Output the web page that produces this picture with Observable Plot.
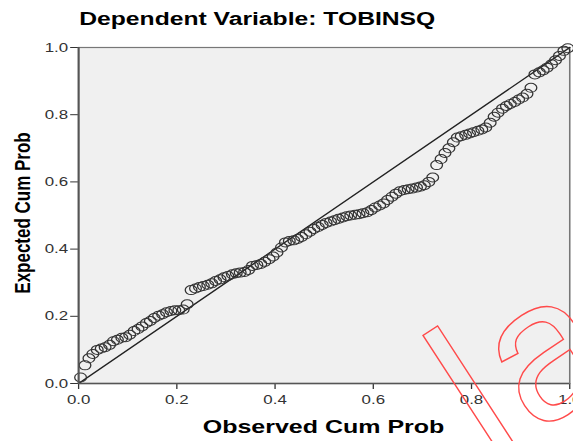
<!DOCTYPE html>
<html><head><meta charset="utf-8">
<script src="https://cdn.jsdelivr.net/npm/d3@7"></script>
<script src="https://cdn.jsdelivr.net/npm/@observablehq/plot@0.6"></script>
<style>
html,body{margin:0;padding:0;background:#fff;}
#chart{position:relative;width:573px;height:441px;overflow:hidden;}
#wm{position:absolute;left:0;top:0;pointer-events:none;}
</style></head><body><div id="chart"></div>
<script>
const title = "Dependent Variable: TOBINSQ";
const xLabel = "Observed Cum Prob";
const yLabel = "Expected Cum Prob";
const ticks = [0, 0.2, 0.4, 0.6, 0.8, 1.0];
const diagonal = [0, 1];
const watermark = "la";

const observed = [
.004,.013,.021,.029,.038,.046,.054,.063,.071,.079,
.088,.096,.104,.113,.121,.129,.138,.146,.154,.163,
.171,.179,.188,.196,.204,.213,.221,.229,.238,.246,
.254,.263,.271,.279,.288,.296,.304,.313,.321,.329,
.338,.346,.354,.363,.371,.379,.388,.396,.404,.413,
.421,.429,.438,.446,.454,.463,.471,.479,.488,.496,
.504,.513,.521,.529,.538,.546,.554,.563,.571,.579,
.588,.596,.604,.613,.621,.629,.638,.646,.654,.663,
.671,.679,.688,.696,.704,.713,.721,.729,.738,.746,
.754,.763,.771,.779,.788,.796,.804,.813,.821,.829,
.838,.846,.854,.863,.871,.879,.888,.896,.904,.913,
.921,.929,.938,.946,.954,.963,.971,.979,.988,.996];

const expected = [
.018,.054,.075,.088,.100,.104,.108,.115,.126,.130,
.136,.138,.145,.156,.162,.170,.180,.186,.195,.202,
.206,.212,.216,.218,.218,.220,.236,.278,.283,.287,
.290,.294,.298,.305,.310,.316,.320,.325,.328,.330,
.332,.338,.350,.353,.356,.362,.370,.378,.390,.405,
.420,.424,.426,.430,.436,.444,.452,.460,.466,.472,
.478,.482,.486,.490,.494,.498,.500,.502,.504,.507,
.510,.516,.524,.530,.536,.546,.556,.565,.572,.576,
.578,.580,.583,.586,.590,.600,.613,.650,.668,.686,
.700,.718,.732,.736,.740,.744,.748,.752,.756,.762,
.776,.794,.806,.818,.826,.832,.838,.845,.851,.862,
.880,.920,.926,.932,.940,.950,.962,.975,.990,.998];

const W = 441, H = 441, OUTW = 573;
const points = observed.map((x, i) => ({x, y: expected[i]}));
const fmt = d3.format(".1f");

const plot = Plot.plot({
  width: W, height: H,
  marginLeft: 60, marginRight: 3, marginTop: 47, marginBottom: 58,
  style: {fontFamily: "'Liberation Sans', Arial, sans-serif", fontSize: "13px", color: "#333", background: "#fff", overflow: "visible"},
  x: {domain: [0, 1], ticks, tickFormat: fmt, tickSize: 6, tickPadding: 5, label: null},
  y: {domain: [0, 1], ticks, tickFormat: fmt, tickSize: 6, tickPadding: 2, label: null},
  marks: [
    Plot.frame({fill: "#f0f0f0", stroke: "#777", strokeWidth: 1.2}),
    Plot.line(diagonal.map(d => [d, d]), {stroke: "#222", strokeWidth: 1.2}),
    Plot.dot(points, {x: "x", y: "y", r: 4.5, stroke: "#333", strokeWidth: 1, fill: "none"}),
    Plot.ruleX([0], {stroke: "#555", strokeWidth: 1.5}),
    Plot.ruleY([0], {stroke: "#555", strokeWidth: 1.5})
  ]
});

const svg = d3.select(plot);
svg.append("text").attr("x", 198).attr("y", 25).attr("text-anchor", "middle")
  .attr("font-weight", "bold").attr("font-size", 18.5).attr("fill", "#000")
  .attr("textLength", 274).attr("lengthAdjust", "spacingAndGlyphs").text(title);
svg.append("text").attr("x", 249).attr("y", 433).attr("text-anchor", "middle")
  .attr("font-weight", "bold").attr("font-size", 18).attr("fill", "#000")
  .attr("textLength", 186).attr("lengthAdjust", "spacingAndGlyphs").text(xLabel);
svg.append("text").attr("transform", "translate(23,213) rotate(-90)").attr("text-anchor", "middle")
  .attr("font-weight", "bold").attr("font-size", 17).attr("fill", "#000").text(yLabel);

plot.setAttribute("width", OUTW);
plot.setAttribute("height", H);
plot.setAttribute("preserveAspectRatio", "none");
plot.style.width = OUTW + "px";
plot.style.height = H + "px";
plot.style.maxWidth = "none";

const chart = document.getElementById("chart");
chart.appendChild(plot);

// red outlined watermark overlay
const wm = d3.select(chart).append("svg").attr("id", "wm").attr("width", OUTW).attr("height", H);
wm.append("text").attr("x", 490).attr("y", 463).attr("transform", "rotate(-33,490,463)")
  .attr("font-family", "'Liberation Sans', Arial, sans-serif").attr("font-size", 198)
  .attr("letter-spacing", 8)
  .attr("fill", "none").attr("stroke", "#ff4a4a").attr("stroke-width", 1.4).text(watermark);
</script>
</body></html>
